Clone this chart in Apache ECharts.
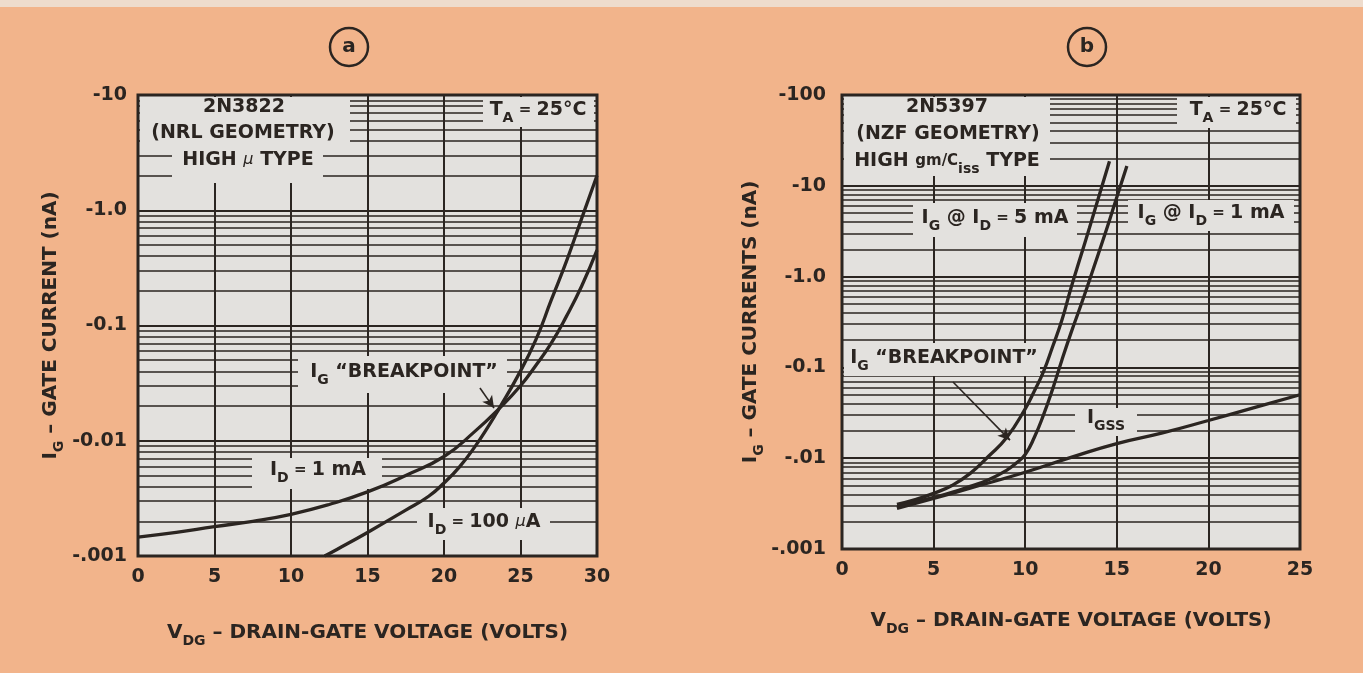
<!DOCTYPE html>
<html><head><meta charset="utf-8">
<script src="https://cdn.jsdelivr.net/npm/echarts@6/dist/echarts.min.js"></script>
<style>html,body{margin:0;padding:0;background:#f2b48b;}#c{width:1363px;height:673px;}</style>
</head><body><div id="c"></div>
<script>
// ---------- data (gate-current magnitudes in nA; labels show negative sign) ----------
const aXTicks = [0, 5, 10, 15, 20, 25, 30];
const aYTicks = [0.001, 0.01, 0.1, 1, 10];
const aYLabels = ['-.001', '-0.01', '-0.1', '-1.0', '-10'];
const bXTicks = [0, 5, 10, 15, 20, 25];
const bYTicks = [0.001, 0.01, 0.1, 1, 10, 100];
const bYLabels = ['-.001', '-.01', '-0.1', '-1.0', '-10', '-100'];

// chart (a) 2N3822
const a1mA_v = [0, 2.5, 5, 7.5, 10, 12.5, 15, 17.5, 20, 22, 23.6, 25, 26, 27, 28, 29, 30];
const a1mA_i = [0.00146, 0.0016, 0.0018, 0.002, 0.0023, 0.0028, 0.0036, 0.005, 0.0073, 0.012, 0.019, 0.03, 0.045, 0.07, 0.12, 0.22, 0.45];
const a100uA_v = [12.2, 13, 15, 17.5, 19, 20, 21, 22, 23, 23.6, 24.8, 26, 27, 28, 29, 30];
const a100uA_i = [0.001, 0.00114, 0.0016, 0.0025, 0.0033, 0.0043, 0.0059, 0.0088, 0.014, 0.019, 0.036, 0.075, 0.165, 0.36, 0.85, 2.0];
const aArrow = [[22.35, 0.0287], [23.27, 0.0192]];

// chart (b) 2N5397
const bIgss_v = [3, 5, 7.5, 10, 12.5, 15, 17.5, 20, 22.5, 25];
const bIgss_i = [0.0028, 0.0036, 0.005, 0.007, 0.0102, 0.0145, 0.019, 0.026, 0.036, 0.05];
const b5mA_v = [3, 4, 5, 6, 7, 8, 9, 10, 10.5, 11, 11.5, 12, 12.5, 13, 13.5, 14, 14.6];
const b5mA_i = [0.0031, 0.0035, 0.0041, 0.005, 0.0068, 0.0105, 0.017, 0.035, 0.055, 0.09, 0.17, 0.33, 0.75, 1.6, 3.4, 7.4, 18.6];
const b1mA_v = [3, 4, 5, 6, 7, 8, 9, 9.5, 10, 10.5, 11, 11.5, 12, 12.5, 13, 13.5, 14, 14.5, 15, 15.55];
const b1mA_i = [0.0029, 0.0033, 0.0037, 0.0042, 0.0049, 0.0058, 0.0074, 0.0088, 0.011, 0.017, 0.03, 0.058, 0.12, 0.24, 0.46, 0.9, 1.8, 3.6, 7.5, 16.5];
const bArrow = [[6.06, 0.069], [9.17, 0.0158]];

// ---------- styling ----------
const INK = '#2b2521';
const PLOT = '#e3e1de';
const FONT = 'DejaVu Sans';
const pairs = (v, i) => v.map((x, k) => [x, i[k]]);
const labelFor = (ticks, labels) => (val) => {
  for (let k = 0; k < ticks.length; k++) if (Math.abs(Math.log10(val) - Math.log10(ticks[k])) < 1e-6) return labels[k];
  return '';
};
const rich = {
  n: {fontFamily: FONT, fontWeight: 'bold', fontSize: 19, lineHeight: 30, color: INK, fill: INK},
  t: {fontFamily: FONT, fontWeight: 'bold', fontSize: 20, lineHeight: 30, color: INK, fill: INK},
  s: {fontFamily: FONT, fontWeight: 'bold', fontSize: 14, lineHeight: 14, verticalAlign: 'bottom', color: INK, fill: INK},
  m: {fontFamily: FONT, fontWeight: 'normal', fontStyle: 'italic', fontSize: 16, lineHeight: 30, color: INK, fill: INK},
  g: {fontFamily: FONT, fontWeight: 'bold', fontSize: 15, lineHeight: 30, color: INK, fill: INK}
};
const curve = (name, data, xi) => ({
  name, type: 'line', xAxisIndex: xi, yAxisIndex: xi, data, showSymbol: false, symbol: 'none',
  smooth: 0.5, z: 5, clip: true,
  lineStyle: {color: INK, width: 3.3}
});
const arrow = (pts, xi) => ({
  type: 'line', xAxisIndex: xi, yAxisIndex: xi, data: [], z: 6,
  markLine: {silent: true, symbol: ['none', 'arrow'], symbolSize: [9, 12], label: {show: false},
    lineStyle: {color: INK, width: 1.6, type: 'solid'},
    data: [[{coord: pts[0]}, {coord: pts[1]}]]}
});
const xAxisOf = (gi, max) => ({
  type: 'value', gridIndex: gi, min: 0, max, interval: 5,
  axisLine: {show: false}, axisTick: {show: false},
  axisLabel: {margin: 12, fontFamily: FONT, fontWeight: 'bold', fontSize: 19, color: INK},
  splitLine: {show: true, lineStyle: {color: INK, width: 2}},
  name: '{t|V}{s|DG}{t| – DRAIN-GATE VOLTAGE (VOLTS)}', nameLocation: 'middle',
  nameGap: gi === 0 ? 62 : 57, nameTextStyle: {rich}
});
const yAxisOf = (gi, max, ticks, labels, title, gap) => ({
  type: 'log', logBase: 10, gridIndex: gi, min: 0.001, max,
  axisLine: {show: false}, axisTick: {show: false},
  axisLabel: {margin: gi === 0 ? 11 : 16, fontFamily: FONT, fontWeight: 'bold', fontSize: 19, color: INK,
    formatter: labelFor(ticks, labels)},
  splitLine: {show: true, lineStyle: {color: INK, width: 2}},
  minorTick: {show: false, splitNumber: 9},
  minorSplitLine: {show: true, lineStyle: {color: INK, width: 1.5}},
  name: title, nameLocation: 'middle', nameGap: gap, nameRotate: 90, nameTextStyle: {rich}
});

const cover = (x1, y1, x2, y2) => ({type: 'rect', z: 1, shape: {x: x1, y: y1, width: x2 - x1, height: y2 - y1}, style: {fill: PLOT}});
const txt = (x, y, text) => ({type: 'text', z: 2, x, y, style: {text, rich, align: 'center', verticalAlign: 'middle', textAlign: 'center', textVerticalAlign: 'middle', fill: INK}});
const ring = (cx, cy, letter) => [
  {type: 'circle', z: 2, shape: {cx, cy, r: 19}, style: {fill: 'none', stroke: INK, lineWidth: 2.5}},
  {type: 'text', z: 2, x: cx, y: cy, style: {text: letter, font: 'bold 20px "DejaVu Sans"', fill: INK, align: 'center', verticalAlign: 'middle'}}
];

const option = {
  animation: false,
  backgroundColor: '#f2b48b',
  grid: [
    {left: 138, top: 95, width: 459, height: 461, show: true, backgroundColor: PLOT, borderColor: INK, borderWidth: 3},
    {left: 842, top: 95, width: 458, height: 454, show: true, backgroundColor: PLOT, borderColor: INK, borderWidth: 3}
  ],
  xAxis: [xAxisOf(0, 30), xAxisOf(1, 25)],
  yAxis: [
    yAxisOf(0, 10, aYTicks, aYLabels, '{t|I}{s|G}{t| – GATE CURRENT (nA)}', 72),
    yAxisOf(1, 100, bYTicks, bYLabels, '{t|I}{s|G}{t| – GATE CURRENTS (nA)}', 76)
  ],
  series: [
    curve('ID = 1 mA', pairs(a1mA_v, a1mA_i), 0),
    curve('ID = 100 µA', pairs(a100uA_v, a100uA_i), 0),
    arrow(aArrow, 0),
    curve('IGSS', pairs(bIgss_v, bIgss_i), 1),
    curve('IG @ ID = 5 mA', pairs(b5mA_v, b5mA_i), 1),
    curve('IG @ ID = 1 mA', pairs(b1mA_v, b1mA_i), 1),
    arrow(bArrow, 1)
  ],
  graphic: [
    {type: 'rect', z: 0, shape: {x: 0, y: 0, width: 1363, height: 7}, style: {fill: '#eedccd'}},
    // chart (a) annotation boxes
    cover(140, 97, 350, 147), cover(172, 147, 323, 183), cover(483, 97, 594, 127),
    cover(298, 356, 507, 393), cover(252, 458, 382, 489), cover(417, 508, 550, 540),
    txt(244, 107, '{n|2N3822}'),
    txt(243, 133, '{n|(NRL GEOMETRY)}'),
    txt(248, 160, '{n|HIGH }{m|μ}{n| TYPE}'),
    txt(538, 110, '{n|T}{s|A}{g| = }{n|25°C}'),
    txt(404, 372, '{n|I}{s|G}{n| “BREAKPOINT”}'),
    txt(318, 470, '{n|I}{s|D}{g| = }{n|1 mA}'),
    txt(484, 522, '{n|I}{s|D}{g| = }{n|100 }{m|µ}{n|A}'),
    // chart (b) annotation boxes
    cover(844, 97, 1050, 176), cover(1177, 97, 1296, 128), cover(913, 203, 1077, 237),
    cover(1128, 200, 1294, 231), cover(844, 343, 1040, 376), cover(1075, 408, 1137, 436),
    txt(947, 107, '{n|2N5397}'),
    txt(948, 134, '{n|(NZF GEOMETRY)}'),
    txt(947, 161, '{n|HIGH }{g|gm/C}{s|iss}{n| TYPE}'),
    txt(1238, 110, '{n|T}{s|A}{g| = }{n|25°C}'),
    txt(995, 218, '{n|I}{s|G}{n| @ I}{s|D}{g| = }{n|5 mA}'),
    txt(1211, 213, '{n|I}{s|G}{n| @ I}{s|D}{g| = }{n|1 mA}'),
    txt(944, 358, '{n|I}{s|G}{n| “BREAKPOINT”}'),
    txt(1106, 418, '{n|I}{s|GSS}'),
    ...ring(349, 47, 'a'),
    ...ring(1087, 47, 'b')
  ]
};
const chart = echarts.init(document.getElementById('c'), null, {renderer: 'canvas'});
chart.setOption(option);
</script></body></html>
